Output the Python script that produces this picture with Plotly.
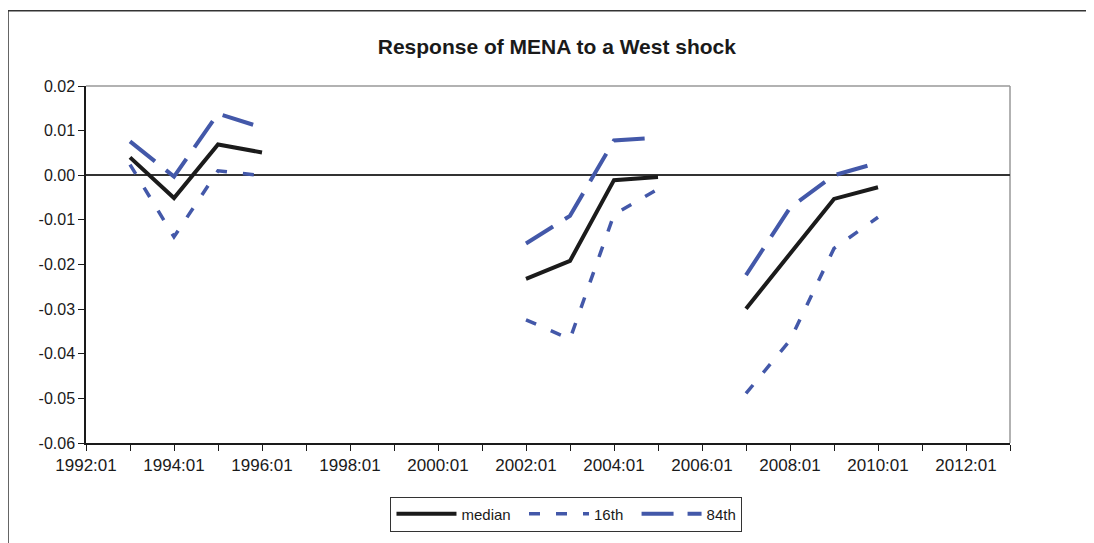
import plotly.graph_objects as go

categories = [f"{y}:01" for y in range(1992, 2014)]

median = [None, 0.0040, -0.0051, 0.0069, 0.0051, None, None, None, None, None,
          -0.0232, -0.0192, -0.0011, -0.0004, None,
          -0.0299, -0.0175, -0.0053, -0.0027, None, None, None]
p16 = [None, 0.0024, -0.0138, 0.0010, -0.0001, None, None, None, None, None,
       -0.0324, -0.0367, -0.0088, -0.0031, None,
       -0.0489, -0.0370, -0.0164, -0.0094, None, None, None]
p84 = [None, 0.0076, -0.0003, 0.0138, 0.0107, None, None, None, None, None,
       -0.0153, -0.0091, 0.0078, 0.0084, None,
       -0.0224, -0.0073, 0.0000, 0.0028, None, None, None]

series_names = ["median", "16th", "84th"]

y_ticks = [0.02, 0.01, 0.00, -0.01, -0.02, -0.03, -0.04, -0.05, -0.06]
y_ticktext = [f"{v:.2f}".replace("-0.00", "0.00") for v in y_ticks]

xs = list(range(len(categories)))
blue = "#4358A9"
pad = "\u00a0" * 2

fig = go.Figure()
fig.add_trace(go.Scatter(x=xs, y=median, mode="lines", name=series_names[0] + pad,
                         line=dict(color="#1b1b1b", width=4), connectgaps=False))
fig.add_trace(go.Scatter(x=xs, y=p16, mode="lines", name=series_names[1] + pad,
                         line=dict(color=blue, width=3.5, dash="11px,16px"), connectgaps=False))
fig.add_trace(go.Scatter(x=xs, y=p84, mode="lines", name=series_names[2],
                         line=dict(color=blue, width=4, dash="32px,14px"), connectgaps=False))

# page body has an 8px margin: figure origin sits at (8, 8) in the window
W, H = 1086, 535
fig.update_layout(
    width=W, height=H,
    margin=dict(l=78, r=84, t=78, b=97),
    paper_bgcolor="white", plot_bgcolor="white",
    font=dict(family="Liberation Sans, Arial, sans-serif", size=15, color="#1a1a1a"),
    title=dict(text="<b>Response of MENA to a West shock</b>", x=0.5054, xanchor="center",
               y=1 - 39 / H, yanchor="middle", font=dict(size=21, color="#1a1a1a")),
    showlegend=True,
    legend=dict(orientation="h", x=0.52, xanchor="center", y=-0.15, yanchor="top",
                bordercolor="#333333", borderwidth=1, font=dict(size=15),
                itemwidth=60, tracegroupgap=0),
    xaxis=dict(range=[0, len(categories) - 1], tickmode="array",
               tickvals=xs[::2], ticktext=categories[::2],
               ticks="outside", ticklen=6, tickcolor="#1a1a1a",
               showline=True, linecolor="#1a1a1a", linewidth=1.5,
               showgrid=False, zeroline=False,
               minor=dict(tickmode="linear", dtick=1, ticks="outside", ticklen=6,
                          tickcolor="#1a1a1a", showgrid=False),
               tickfont=dict(size=17)),
    yaxis=dict(range=[-0.06, 0.02], tickmode="array", tickvals=y_ticks, ticktext=y_ticktext,
               ticks="outside", ticklen=6, tickcolor="#1a1a1a",
               showline=True, linecolor="#1a1a1a", linewidth=1.5,
               showgrid=False, zeroline=True, zerolinecolor="#333333", zerolinewidth=1.5,
               tickfont=dict(size=16)),
    shapes=[
        dict(type="line", xref="paper", yref="paper", x0=0, x1=1, y0=1, y1=1,
             line=dict(color="#999999", width=1.5), layer="below"),
        dict(type="line", xref="paper", yref="paper", x0=1, x1=1, y0=0, y1=1,
             line=dict(color="#999999", width=1.5), layer="below"),
        dict(type="rect", xref="paper", yref="paper",
             x0=(8 - 86) / 924, x1=1.3, y0=-0.5, y1=(446 - 10) / 360,
             line=dict(color="#333333", width=1.5), fillcolor="rgba(0,0,0,0)", layer="below"),
    ],
)

fig.write_html("out.html")
